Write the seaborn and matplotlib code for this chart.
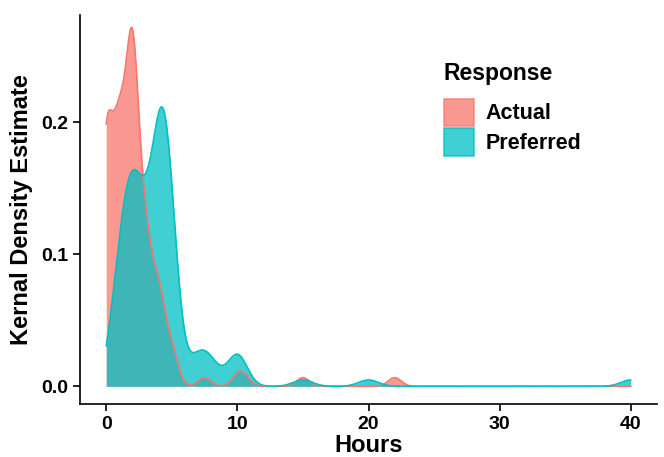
import matplotlib.pyplot as plt
from matplotlib.axes import Axes
from matplotlib.patches import Patch
import seaborn as sns
import numpy as np
import pandas as pd

# survey answers: hours value and how many respondents gave it
ACTUAL_HOURS = [0, 1, 2, 3, 4, 5, 7.5, 10, 10.5, 15, 22]
ACTUAL_COUNTS = [27, 25, 36, 15, 10, 4, 1, 1, 1, 1, 1]

PREFERRED_HOURS = [1, 2, 3, 4, 4.5, 5, 7, 8, 10, 15, 20, 40]
PREFERRED_COUNTS = [14, 22, 14, 18, 19, 9, 4, 3, 5, 1, 1, 1]

RESPONSES = ["Actual", "Preferred"]
COLORS = {"Actual": "#F8766D", "Preferred": "#00BFC4"}
BANDWIDTH = {"Actual": 0.5, "Preferred": 0.75}

X_TICKS = [0, 10, 20, 30, 40]
Y_TICKS = [0.0, 0.1, 0.2]
Y_TICK_LABELS = ["0.0", "0.1", "0.2"]


def buildData() -> pd.DataFrame:
    parts = []
    for name, hours, counts in [("Actual", ACTUAL_HOURS, ACTUAL_COUNTS),
                                ("Preferred", PREFERRED_HOURS, PREFERRED_COUNTS)]:
        parts.append(pd.DataFrame({
            "Hours": np.repeat(hours, counts),
            "Response": name
        }))
    return pd.concat(parts, ignore_index=True)


def drawDensity(df: pd.DataFrame, ax: Axes) -> None:
    for name in RESPONSES:
        sub = df[df["Response"] == name]
        factor = BANDWIDTH[name] / sub["Hours"].std()
        common = dict(data=sub, x="Hours", bw_method=factor, cut=60,
                      clip=(0, 40), gridsize=512, color=COLORS[name], ax=ax)
        sns.kdeplot(fill=True, alpha=0.75, linewidth=0, **common)
        sns.kdeplot(fill=False, linewidth=1.2, **common)


def styleAxes(ax: Axes) -> None:
    ax.set_xlim(-2, 42)
    ax.set_ylim(-0.0134, 0.2814)
    ax.set_xticks(X_TICKS)
    ax.set_yticks(Y_TICKS)
    ax.set_yticklabels(Y_TICK_LABELS)
    ax.tick_params(axis="both", labelsize=14, width=1.2, length=5,
                   color="black", labelcolor="black")
    for lab in ax.get_xticklabels() + ax.get_yticklabels():
        lab.set_fontweight("bold")
    for side in ["left", "bottom"]:
        ax.spines[side].set_linewidth(1.2)
        ax.spines[side].set_color("black")
    sns.despine(ax=ax)

    ax.set_xlabel("Hours", fontsize=17, fontweight="bold", labelpad=1)
    ax.set_ylabel("Kernal Density Estimate", fontsize=17, fontweight="bold",
                  labelpad=6)

    handles = [Patch(facecolor=COLORS[n], edgecolor=COLORS[n], alpha=0.75,
                     linewidth=1.2, label=n) for n in RESPONSES]
    leg = ax.legend(handles=handles, title="Response", loc="upper left",
                    bbox_to_anchor=(0.63, 0.88), frameon=False, fontsize=15.5,
                    title_fontproperties={"weight": "bold", "size": 16.5},
                    handlelength=1.4, handleheight=1.6, handletextpad=0.55,
                    labelspacing=0.1, borderpad=0, borderaxespad=0)
    leg._legend_box.sep = 10
    leg._legend_box.align = "left"
    for t in leg.get_texts():
        t.set_fontweight("bold")


def main() -> None:
    sns.set_style("ticks")
    plt.rcParams["font.family"] = ["Liberation Sans", "DejaVu Sans"]
    plt.rcParams["text.color"] = "black"
    plt.rcParams["axes.labelcolor"] = "black"

    df = buildData()
    fig = plt.figure(figsize=(6.64, 4.57), dpi=100)
    ax = fig.add_axes([80 / 664, 1 - 404 / 457, 577 / 664, 389 / 457])
    drawDensity(df, ax)
    styleAxes(ax)

    fig.savefig("out.png", dpi=100)


if __name__ == '__main__':
    main()
